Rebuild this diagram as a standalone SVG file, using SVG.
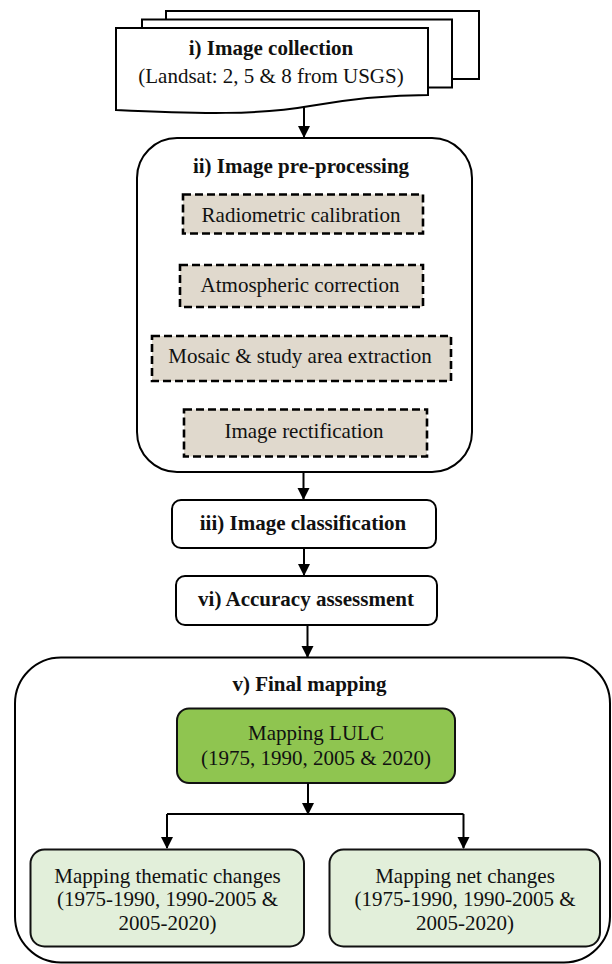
<svg xmlns="http://www.w3.org/2000/svg" width="612" height="964" viewBox="0 0 612 964">
<style>
.t{font-family:"Liberation Serif","Times New Roman",serif;fill:#111;text-anchor:middle}
.b{font-weight:bold;font-size:21px}
.r{font-size:21px}
.box{fill:#fff;stroke:#000;stroke-width:2}
.dash{fill:#E0D9CD;stroke:#000;stroke-width:2.6;stroke-dasharray:8 4}
.lg{fill:#E2EFDA;stroke:#111;stroke-width:2}
.g{fill:#8FC550;stroke:#111;stroke-width:2}
.c{fill:none;stroke:#000;stroke-width:2}
</style>
<defs>
<marker id="ah" markerUnits="userSpaceOnUse" markerWidth="12" markerHeight="14" refX="11" refY="6" orient="auto">
<path d="M0,0 L12,6 L0,12 Z" fill="#000"/>
</marker>
</defs>
<rect width="612" height="964" fill="#fff"/>
<g id="n1">
<rect class="box" x="166" y="11" width="313" height="68"/>
<rect class="box" x="142" y="19.5" width="310" height="68"/>
<path class="box" d="M116,28 L428,28 L428,95 C390,95 350,99 310,106 C260,115 200,114 116,110 Z"/>
<text class="t b" x="271" y="55">i) Image collection</text>
<text class="t r" x="271" y="83">(Landsat: 2, 5 &amp; 8 from USGS)</text>
</g>
<g id="n2">
<rect class="box" x="137" y="138" width="335" height="334" rx="40"/>
<text class="t b" x="301" y="173">ii) Image pre-processing</text>
</g>
<g id="n2a">
<rect class="dash" x="183" y="194.5" width="240" height="39"/>
<text class="t r" x="301" y="222">Radiometric calibration</text>
</g>
<g id="n2b">
<rect class="dash" x="180" y="265" width="243" height="42"/>
<text class="t r" x="300" y="292">Atmospheric correction</text>
</g>
<g id="n2c">
<rect class="dash" x="152" y="336" width="299" height="45"/>
<text class="t r" x="300" y="363">Mosaic &amp; study area extraction</text>
</g>
<g id="n2d">
<rect class="dash" x="184" y="409.5" width="243" height="47"/>
<text class="t r" x="304" y="438">Image rectification</text>
</g>
<g id="n3">
<rect class="box" x="172" y="500" width="264" height="48" rx="9"/>
<text class="t b" x="303" y="529.5">iii) Image classification</text>
</g>
<g id="n4">
<rect class="box" x="176" y="576" width="261" height="49" rx="9"/>
<text class="t b" x="306" y="606">vi) Accuracy assessment</text>
</g>
<g id="n5">
<rect class="box" x="15" y="657.5" width="595" height="305" rx="46"/>
<text class="t b" x="309.5" y="690.5">v) Final mapping</text>
</g>
<g id="n5a">
<rect class="g" x="177" y="708.5" width="278" height="74.5" rx="12"/>
<text class="t r" x="316" y="740">Mapping LULC</text>
<text class="t r" x="316" y="765">(1975, 1990, 2005 &amp; 2020)</text>
</g>
<g id="n5b">
<rect class="lg" x="30.5" y="849.5" width="273.5" height="97" rx="14"/>
<text class="t r" x="167.5" y="882.5">Mapping thematic changes</text>
<text class="t r" x="167.5" y="906">(1975-1990, 1990-2005 &amp;</text>
<text class="t r" x="167.5" y="930">2005-2020)</text>
</g>
<g id="n5c">
<rect class="lg" x="329.5" y="849.5" width="270.5" height="97" rx="14"/>
<text class="t r" x="465" y="882.5">Mapping net changes</text>
<text class="t r" x="465" y="906">(1975-1990, 1990-2005 &amp;</text>
<text class="t r" x="465" y="930">2005-2020)</text>
</g>
<g id="connectors">
<line class="c" x1="304" y1="106" x2="304" y2="137" marker-end="url(#ah)"/>
<line class="c" x1="303.5" y1="472" x2="303.5" y2="499" marker-end="url(#ah)"/>
<line class="c" x1="304" y1="548" x2="304" y2="575" marker-end="url(#ah)"/>
<line class="c" x1="307.5" y1="625" x2="307.5" y2="657" marker-end="url(#ah)"/>
<line class="c" x1="308" y1="783" x2="308" y2="814" marker-end="url(#ah)"/>
<path class="c" d="M167,814 L463.5,814"/>
<line class="c" x1="167" y1="814" x2="167" y2="848" marker-end="url(#ah)"/>
<line class="c" x1="463.5" y1="814" x2="463.5" y2="848" marker-end="url(#ah)"/>
</g>
</svg>
